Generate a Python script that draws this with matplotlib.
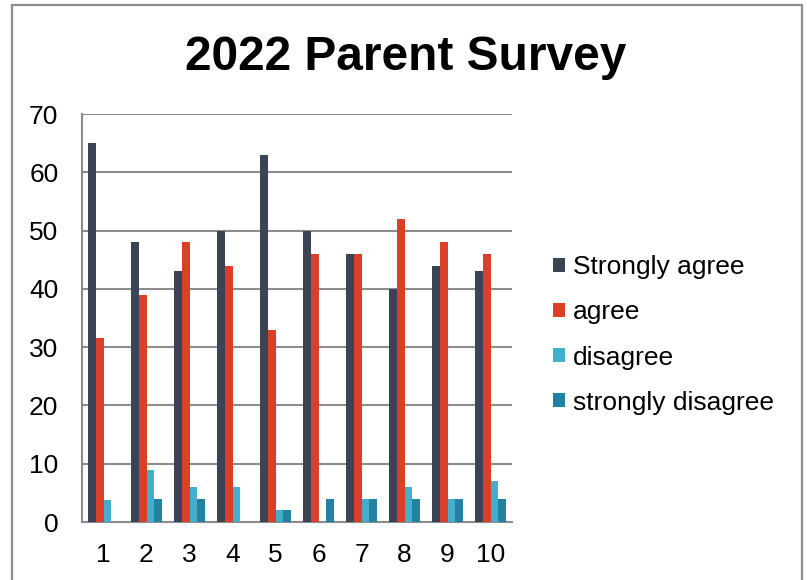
import numpy as np
import matplotlib.pyplot as plt
from matplotlib.patches import Rectangle

plt.rcParams["font.family"] = ["Liberation Sans", "DejaVu Sans"]

# Survey question numbers and response counts
questions = ["1", "2", "3", "4", "5", "6", "7", "8", "9", "10"]
strongly_agree = [65, 48, 43, 50, 63, 50, 46, 40, 44, 43]
agree = [31.5, 39, 48, 44, 33, 46, 46, 52, 48, 46]
disagree = [3.7, 9, 6, 6, 2, 0, 4, 6, 4, 7]
strongly_disagree = [0, 4, 4, 0, 2, 4, 4, 4, 4, 4]

series = [
    ("Strongly agree", strongly_agree, "#3B4454"),
    ("agree", agree, "#D93F29"),
    ("disagree", disagree, "#42B0CD"),
    ("strongly disagree", strongly_disagree, "#2481A1"),
]

W, H = 807, 580
fig = plt.figure(figsize=(W / 100, H / 100), dpi=100)
# outer chart frame (bottom edge runs off the picture)
fig.patches.append(Rectangle((12 / W, -0.02), 790 / W, 1.02 - 5 / H,
                             transform=fig.transFigure, fill=False,
                             edgecolor="#8c8c8c", linewidth=1.6))
ax = fig.add_axes([82 / W, 1 - 522 / H, 430 / W, 408 / H])

x = np.arange(1, len(questions) + 1)
width = 0.18
for i, (name, vals, color) in enumerate(series):
    ax.bar(x + (i - 1.5) * width, vals, width, color=color, label=name, zorder=3)

ax.set_xlim(0.5, 10.5)
ax.set_ylim(0, 70)
ax.set_yticks(range(0, 71, 10))
ax.set_xticks(x)
ax.set_xticklabels(questions)
ax.tick_params(length=0, labelsize=19, colors="black")
ax.tick_params(axis="y", pad=17)
ax.tick_params(axis="x", pad=15)
ax.yaxis.grid(True, color="#8c8c8c", linewidth=1.5, zorder=0)
for s in ["top", "right"]:
    ax.spines[s].set_visible(False)
for s in ["left", "bottom"]:
    ax.spines[s].set_color("#8c8c8c")
    ax.spines[s].set_linewidth(1.5)

fig.text(406 / W, 1 - 57 / H, "2022 Parent Survey", ha="center", va="center",
         fontsize=34.5, fontweight="bold")

fig.legend(loc="center left", bbox_to_anchor=(553 / W, 1 - 335 / H),
           frameon=False, fontsize=19, handlelength=0.46, handleheight=0.46,
           handletextpad=0.3, labelspacing=0.8, borderpad=0, borderaxespad=0)

fig.savefig("out.png", dpi=100)
